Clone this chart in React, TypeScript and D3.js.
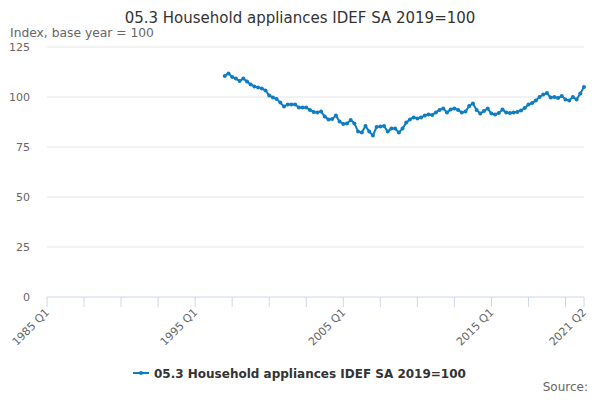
import React from "react";
import * as d3 from "d3";

const title = "05.3 Household appliances IDEF SA 2019=100";
const yAxisTitle = "Index, base year = 100";
const seriesName = "05.3 Household appliances IDEF SA 2019=100";

// every quarter on the axis, 1985 Q1 .. 2021 Q2
const categories: string[] = [];
for (let y = 1985; y <= 2021; y++) {
    for (let q = 1; q <= 4; q++) {
        if (y === 2021 && q > 2) break;
        categories.push(`${y} Q${q}`);
    }
}

const tickLabels = ["1985 Q1", "1995 Q1", "2005 Q1", "2015 Q1", "2021 Q2"];
const yTicks = [0, 25, 50, 75, 100, 125];

// series starts at 1997 Q1
const seriesStart = "1997 Q1";
const values = [
    110.5, 111.8, 110, 109.2, 108, 109.3, 107.7, 106.3, 105.3, 104.8, 104.3, 103.3,
    100.8, 99.8, 99, 97.2, 95.2, 96.3, 96.3, 96.3, 94.7, 94.8, 94.8, 93.5,
    92.5, 92.2, 92.7, 90.2, 88.8, 89, 90.7, 87.7, 86.5, 86.8, 88.5, 86.8,
    82.7, 82.2, 85.5, 82.7, 80.8, 85, 85.2, 85.5, 82.7, 84.2, 84.2, 82.2,
    84.2, 87.2, 88.8, 89.8, 89.3, 89.8, 90.7, 91.3, 91, 92.3, 93.5, 94.3,
    92.2, 93.8, 94.3, 93.5, 92.2, 92.7, 95.5, 96.8, 93.5, 91.8, 93, 94.2,
    91.7, 91.3, 92, 93.7, 92.2, 92, 92.2, 92.5, 93.3, 94.5, 96.2, 97,
    98.3, 100, 101.2, 102, 99.7, 100, 99.5, 100.5, 98.8, 98.3, 100, 98.7,
    101.7, 105,
];

const lineColor = "#0f7dc3";
const font = "DejaVu Sans, Verdana, sans-serif";

const width = 600;
const height = 400;
const margin = { top: 47, right: 16, bottom: 103, left: 47 };

export default function App() {
    const startIdx = categories.indexOf(seriesStart);
    const points = values.map((v, i) => ({ cat: categories[startIdx + i], value: v }));

    const x = d3
        .scalePoint<string>()
        .domain(categories)
        .range([margin.left, width - margin.right])
        .padding(0);

    const y = d3
        .scaleLinear()
        .domain([0, 125])
        .range([height - margin.bottom, margin.top]);

    const line = d3
        .line<{ cat: string; value: number }>()
        .x((d) => x(d.cat)!)
        .y((d) => y(d.value));

    // tick marks every 10 quarters plus the last one
    const tickCats = categories.filter((_, i) => i % 10 === 0);
    tickCats.push(categories[categories.length - 1]);

    const base = y(0);

    return (
        <svg width={width} height={height} style={{ display: "block", margin: "-8px" }} fontFamily={font}>
            <text x={width / 2} y={23} textAnchor="middle" fontSize={15} fill="#333333">
                {title}
            </text>
            <text x={10} y={37} fontSize={12.3} fill="#666666">
                {yAxisTitle}
            </text>

            {yTicks.map((t) => (
                <g key={t}>
                    {t > 0 && (
                        <line
                            x1={margin.left}
                            x2={width - margin.right}
                            y1={y(t)}
                            y2={y(t)}
                            stroke="#e6e6e6"
                            strokeWidth={1}
                        />
                    )}
                    <text x={30} y={y(t) + 4} textAnchor="end" fontSize={11} fill="#666666">
                        {t}
                    </text>
                </g>
            ))}

            <line x1={margin.left} x2={width - margin.right} y1={base} y2={base} stroke="#ccd6eb" />
            {tickCats.map((c) => (
                <line key={c} x1={x(c)} x2={x(c)} y1={base} y2={base + 10} stroke="#ccd6eb" />
            ))}
            {tickLabels.map((c) => (
                <text
                    key={c}
                    transform={`translate(${x(c)! + 3},${base + 16}) rotate(-45)`}
                    textAnchor="end"
                    fontSize={11}
                    fill="#666666"
                >
                    {c}
                </text>
            ))}

            <path d={line(points)!} fill="none" stroke={lineColor} strokeWidth={2} />
            {points.map((p) => (
                <circle key={p.cat} cx={x(p.cat)} cy={y(p.value)} r={2} fill={lineColor} />
            ))}

            <g transform="translate(133,373)">
                <line x1={0} x2={16} y1={0} y2={0} stroke={lineColor} strokeWidth={2} />
                <circle cx={8} cy={0} r={2} fill={lineColor} />
                <text x={21} y={4.5} fontSize={12} fontWeight="bold" fill="#333333">
                    {seriesName}
                </text>
            </g>

            <text x={588} y={391} textAnchor="end" fontSize={12} fill="#666666">
                Source:
            </text>
        </svg>
    );
}
